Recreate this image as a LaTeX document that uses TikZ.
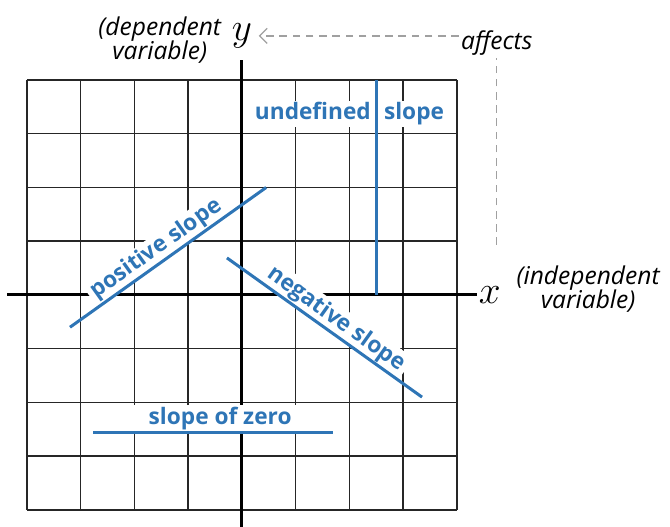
\documentclass[tikz,border=0pt]{standalone}
\usepackage{fontspec}
\setmainfont{Open Sans}
\usetikzlibrary{arrows.meta}
\definecolor{slopeblue}{RGB}{46,117,182}
\definecolor{affgray}{RGB}{160,160,160}
\tikzstyle{gridline} = [line width=0.8pt, black!85]
\tikzstyle{axis} = [line width=1.6pt, black]
\tikzstyle{slopeline} = [line width=1.6pt, slopeblue]
\tikzstyle{slopelabel} = [fill=white, text=slopeblue, font=\bfseries\fontsize{12}{14}\selectfont, inner xsep=2pt, inner ysep=1pt]
\tikzstyle{varlabel} = [font=\itshape\fontsize{13}{13}\selectfont, align=center]
\tikzstyle{axlabel} = [font=\fontsize{20}{20}\selectfont]
\tikzstyle{affline} = [dash pattern=on 4pt off 3pt, line width=0.7pt, affgray]

\begin{document}
\begin{tikzpicture}
  \useasboundingbox (-4.502,-4.316) rectangle (7.963,5.488);
  % grid and axes
  \draw[gridline] (-4,-4) grid (4,4);
  \draw[axis] (-4.37,0) -- (4.37,0);
  \draw[axis] (0,4.37) -- (0,-4.4);
  \node[axlabel] (y) at (0,4.82) {$y$};
  \node[axlabel] (x) at (4.61,0) {$x$};
  \node[varlabel] (dep) at (-1.53,4.74) {(dependent\\variable)};
  \node[varlabel] (indep) at (6.44,0.11) {(independent\\variable)};
  % affects
  \node[varlabel, inner sep=1pt] (affects) at (4.74,4.69) {affects};
  \coordinate (affbot) at (4.74,0.93);
  \draw[affline] (affbot) -- (affects);
  \draw[affline, -{Straight Barb[length=4pt,width=8pt]}] (affects.west |- y) -- (y);
  % slopes
  \coordinate (pos1) at (-3.2,-0.6);
  \coordinate (pos2) at (0.45,2.0);
  \coordinate (neg1) at (-0.28,0.69);
  \coordinate (neg2) at (3.35,-1.9);
  \coordinate (und1) at (2.5,4);
  \coordinate (und2) at (2.5,0);
  \coordinate (zer1) at (-2.77,-2.55);
  \coordinate (zer2) at (1.69,-2.55);
  \path (pos1) -- (pos2) node[slopelabel, sloped, above, pos=.48] (poslbl) {positive slope};
  \path (neg1) -- (neg2) node[slopelabel, sloped, above, pos=.52] (neglbl) {negative slope};
  \node[slopelabel] (undlbl) at (2.0,3.37) {undefined\hspace{7pt}slope};
  \path (zer1) -- (zer2) node[slopelabel, above, pos=.53, inner xsep=8pt] (zerlbl) {slope of zero};
  \draw[slopeline] (pos1) -- (pos2);
  \draw[slopeline] (neg1) -- (neg2);
  \draw[slopeline] (und1) -- (und2);
  \draw[slopeline] (zer1) -- (zer2);
\end{tikzpicture}
\end{document}
